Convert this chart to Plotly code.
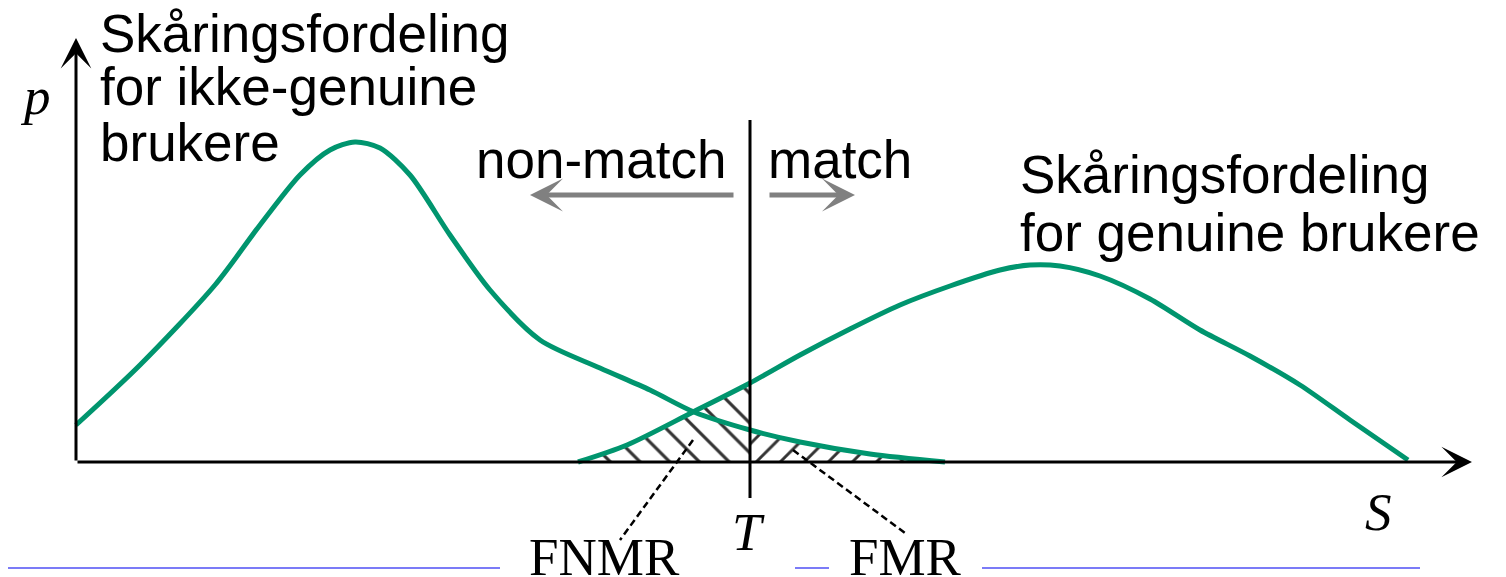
import plotly.graph_objects as go

# Skåringsfordelinger lest av figuren (S = skår, p = høyde over S-aksen)
s_ikke = [76, 140, 215, 260, 300, 330, 355, 380, 410, 450, 490, 540, 600, 650, 694, 750, 800, 870, 945]
p_ikke = [37, 97, 177, 237, 287, 312, 320, 314, 287, 227, 172, 122, 94, 72, 50, 32, 20, 8, 0]

s_gen = [578, 627, 693, 750, 800, 850, 900, 950, 1000, 1030, 1060, 1100, 1150, 1200, 1250, 1300, 1350, 1408]
p_gen = [0, 17, 50, 79, 107, 133, 157, 176, 192, 197, 196, 186, 163, 132, 106, 77, 42, 2]

T = 750  # terskel

# tekstetiketter
tekst_ikke = ["Skåringsfordeling", "for ikke-genuine", "brukere"]
tekst_gen = ["Skåringsfordeling", "for genuine brukere"]

# blå linjer nederst (lysbilde-mal)
linje_x0 = [0, 795, 982]
linje_x1 = [500, 829, 1420]

groenn = "#00956E"
sans = "Liberation Sans, Arial, sans-serif"
serif = "Liberation Serif, Times New Roman, serif"

fig = go.Figure()

# FNMR: areal under genuin-kurven til venstre for T
fx = [s for s in s_gen if s <= T] + [T]
fy = [p for s, p in zip(s_gen, p_gen) if s <= T] + [0]
fig.add_trace(go.Scatter(x=fx, y=fy, mode="none", fill="toself", fillcolor="white",
                         fillpattern=dict(shape="\\", fgcolor="#333333", bgcolor="white",
                                          fgopacity=1, size=21, solidity=0.15)))

# FMR: areal under ikke-genuin-kurven til høyre for T
mx = [T] + [s for s in s_ikke if s >= T]
my = [0] + [p for s, p in zip(s_ikke, p_ikke) if s >= T]
fig.add_trace(go.Scatter(x=mx, y=my, mode="none", fill="toself", fillcolor="white",
                         fillpattern=dict(shape="/", fgcolor="#333333", bgcolor="white",
                                          fgopacity=1, size=17, solidity=0.17)))

# kurvene
fig.add_trace(go.Scatter(x=s_ikke, y=p_ikke, mode="lines",
                         line=dict(color=groenn, width=5, shape="spline", smoothing=0.8)))
fig.add_trace(go.Scatter(x=s_gen, y=p_gen, mode="lines",
                         line=dict(color=groenn, width=5, shape="spline", smoothing=0.8)))

# terskellinje
fig.add_trace(go.Scatter(x=[T, T], y=[-36, 342], mode="lines",
                         line=dict(color="black", width=3)))

# stiplete henvisningslinjer
fig.add_trace(go.Scatter(x=[693, 620, None, 793, 905], y=[22, -78, None, 12, -71], mode="lines",
                         line=dict(color="black", width=2.5, dash="7px,4px")))

# blå linjer
bx, by = [], []
for a, b in zip(linje_x0, linje_x1):
    bx += [a, b, None]
    by += [-106, -106, None]
fig.add_trace(go.Scatter(x=bx, y=by, mode="lines", line=dict(color="#7B7BF7", width=2)))

ann = []
# akser med piler
ann.append(dict(x=1472, y=0, ax=76, ay=0, axref="x", ayref="y", text="", showarrow=True,
                arrowhead=3, arrowsize=1.7, arrowwidth=3, arrowcolor="black"))
ann.append(dict(x=76, y=424, ax=76, ay=0, axref="x", ayref="y", text="", showarrow=True,
                arrowhead=3, arrowsize=1.7, arrowwidth=3, arrowcolor="black"))
# grå piler
ann.append(dict(x=530, y=267, ax=735, ay=267, axref="x", ayref="y", text="", showarrow=True,
                arrowhead=3, arrowsize=1.1, arrowwidth=5, arrowcolor="#808080"))
ann.append(dict(x=855, y=267, ax=768, ay=267, axref="x", ayref="y", text="", showarrow=True,
                arrowhead=3, arrowsize=1.1, arrowwidth=5, arrowcolor="#808080"))

for i, t in enumerate(tekst_ikke):
    ann.append(dict(x=98, y=[429, 376, 320][i], text=t, xanchor="left", yanchor="middle",
                    showarrow=False, font=dict(family=sans, size=53, color="black")))
for i, t in enumerate(tekst_gen):
    ann.append(dict(x=1018, y=[288, 230][i], text=t, xanchor="left", yanchor="middle",
                    showarrow=False, font=dict(family=sans, size=53, color="black")))

ann.append(dict(x=728, y=303, text="non-match", xanchor="right", yanchor="middle",
                showarrow=False, font=dict(family=sans, size=53, color="black")))
ann.append(dict(x=766, y=303, text="match", xanchor="left", yanchor="middle",
                showarrow=False, font=dict(family=sans, size=53, color="black")))

ann.append(dict(x=35, y=366, text="<i>p</i>", showarrow=False,
                font=dict(family=serif, size=53, color="black")))
ann.append(dict(x=748, y=-70, text="<i>T</i>", showarrow=False,
                font=dict(family=serif, size=53, color="black")))
ann.append(dict(x=1378, y=-50, text="<i>S</i>", showarrow=False,
                font=dict(family=serif, size=53, color="black")))
ann.append(dict(x=604, y=-95, text="FNMR", showarrow=False,
                font=dict(family=serif, size=53, color="black")))
ann.append(dict(x=905, y=-95, text="FMR", showarrow=False,
                font=dict(family=serif, size=53, color="black")))

# siden har 8 px marg, så figuren gjøres 8 px mindre og aksene forskyves tilsvarende
fig.update_layout(
    width=1498, height=569,
    margin=dict(l=0, r=0, t=0, b=0),
    paper_bgcolor="white", plot_bgcolor="white",
    showlegend=False,
    xaxis=dict(range=[8, 1506], visible=False, fixedrange=True),
    yaxis=dict(range=[-115, 454], visible=False, fixedrange=True),
    annotations=ann,
)

fig.write_html("out.html")
